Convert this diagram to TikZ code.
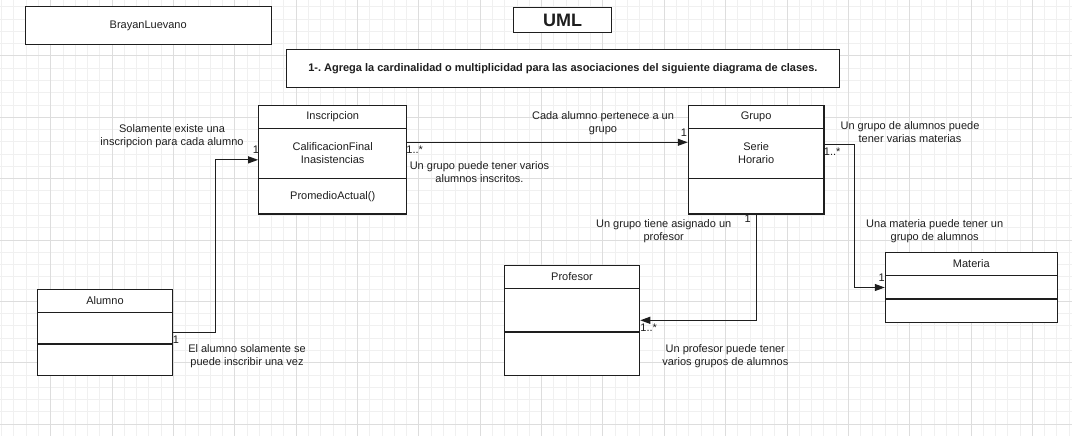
\documentclass[tikz,border=0pt]{standalone}
\usepackage{fontspec}
\setmainfont{Liberation Sans}
\frenchspacing
\usetikzlibrary{arrows.meta}
\definecolor{gridminor}{RGB}{240,240,240}
\definecolor{gridmajor}{RGB}{221,221,221}
\definecolor{ink}{RGB}{30,30,30}
\begin{document}
\begin{tikzpicture}[x=1pt,y=-1pt,
  box/.style={draw=ink,line width=1.1pt,fill=white,inner sep=0pt},
  txt/.style={text=ink,font=\fontsize{11}{13}\selectfont,align=center,inner sep=0pt},
  mult/.style={text=ink,font=\fontsize{11}{11}\selectfont,inner sep=0pt},
  assoc/.style={draw=ink,line width=1.1pt,-{Triangle[length=10pt,width=7pt]}}]
  \useasboundingbox[fill=white] (0,0) rectangle (1072,436);
  % grid
  \foreach \i in {0,...,87}
    \draw[gridminor,line width=0.8pt] ({1.62+12.27*\i},0) -- ++(0,436);
  \foreach \k in {-1,...,34}
    \draw[gridminor,line width=0.8pt] (0,{424-12.27*\k}) -- ++(1072,0);
  \foreach \i in {0,...,17}
    \draw[gridmajor,line width=0.8pt] ({50.7+61.35*(\i-1)},0) -- ++(0,436);
  \foreach \k in {0,...,6}
    \draw[gridmajor,line width=0.8pt] (0,{424-61.35*\k}) -- ++(1072,0);

  % header boxes
  \node[box,txt,minimum width=246,minimum height=37.3] (autor) at (148.2,25.6) {BrayanLuevano};
  \node[box,txt,minimum width=98.5,minimum height=24.6,font=\fontsize{18}{20}\selectfont\bfseries] (titulo) at (562.5,20) {UML};
  \node[box,txt,minimum width=553,minimum height=37.3,font=\fontsize{11}{13}\selectfont\bfseries] (tarea) at (562.9,68.6)
    {1-. Agrega la cardinalidad o multiplicidad para las asociaciones del siguiente diagrama de clases.};

  % classes
  \node[box,minimum width=148,minimum height=108.3] (insc) at (332.7,159.85) {};
  \node[box,minimum width=135.7,minimum height=108.3] (grupo) at (756.15,159.85) {};
  \node[box,minimum width=135.4,minimum height=86.4] (alumno) at (105,332.5) {};
  \node[box,minimum width=135.4,minimum height=110] (profesor) at (572,320.3) {};
  \node[box,minimum width=172,minimum height=69.6] (materia) at (971.3,287.5) {};
  \foreach \n/\a/\b in {insc/128.7/178.3,grupo/128.7/178.3,alumno/312.3/344,profesor/288.3/332,materia/275.7/299}
    \draw[ink,line width=1.1pt] (\n.west |- 0,\a) -- (\n.east |- 0,\a)
    (\n.west |- 0,\b) -- (\n.east |- 0,\b);

  \node[txt] (insctit) at (332.7,116.5) {Inscripcion};
  \node[txt] (inscattr) at (332.7,153) {CalificacionFinal\\Inasistencias};
  \node[txt] (inscmet) at (332.7,196.5) {PromedioActual()};
  \node[txt] (grupotit) at (756.15,116.5) {Grupo};
  \node[txt] (grupoattr) at (756.15,153) {Serie\\Horario};
  \node[txt] (alumnotit) at (105,301) {Alumno};
  \node[txt] (proftit) at (572,276.5) {Profesor};
  \node[txt] (mattit) at (971.3,264) {Materia};

  % associations
  \coordinate (ig) at (0,142.3);
  \coordinate (gm) at (0,144.3);
  \draw[assoc] (alumno.east) -- ++(42.6,0) |- (insc.west);
  \draw[assoc] (insc.east |- ig) -- (grupo.west |- ig);
  \draw[assoc] (grupo.east |- gm) -- ++(30.3,0) |- (materia.west);
  \draw[assoc] (grupo.south) |- (profesor.east);

  % multiplicities
  \node[mult] (m1) at (256,150) {1};
  \node[mult] (m2) at (414.7,150) {1..*};
  \node[mult] (m3) at (684,132.3) {1};
  \node[mult] (m4) at (832.2,151.7) {1..*};
  \node[mult] (m5) at (747.7,218.3) {1};
  \node[mult] (m6) at (648.7,327.7) {1..*};
  \node[mult] (m7) at (881.7,277.3) {1};
  \node[mult] (m8) at (176,340) {1};

  % notes
  \node[txt] (nsol) at (172,135.7) {Solamente existe una\\inscripcion para cada alumno};
  \node[txt] (nvar) at (479.5,172) {Un grupo puede tener varios\\alumnos inscritos.};
  \node[txt] (ncada) at (603,123) {Cada alumno pertenece a un\\grupo};
  \node[txt] (nmat) at (910,132.5) {Un grupo de alumnos puede\\tener varias materias};
  \node[txt] (nasig) at (663.7,231) {Un grupo tiene asignado un\\profesor};
  \node[txt] (nmg) at (934.7,231) {Una materia puede tener un\\grupo de alumnos};
  \node[txt] (nalum) at (247,356.5) {El alumno solamente se\\puede inscribir una vez};
  \node[txt] (nprof) at (725.3,356.3) {Un profesor puede tener\\varios grupos de alumnos};
\end{tikzpicture}
\end{document}
